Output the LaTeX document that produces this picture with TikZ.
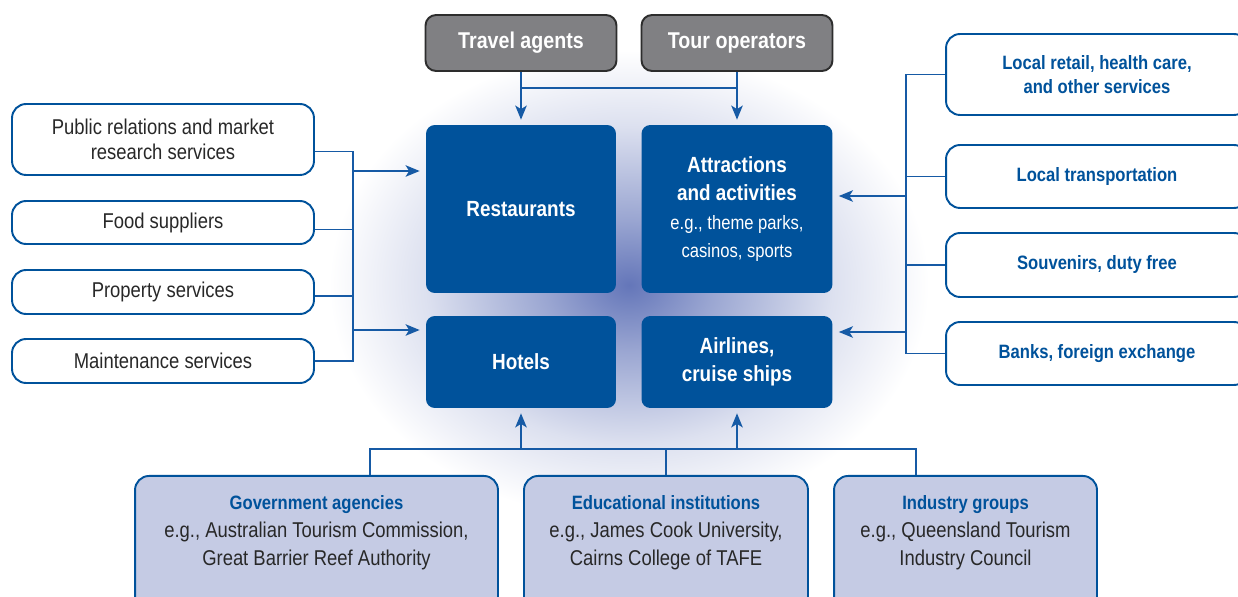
\documentclass[tikz,border=0pt]{standalone}
\usepackage{fontspec}
\setmainfont{Liberation Sans}[FakeStretch=0.86]
\usetikzlibrary{arrows.meta, positioning}
\definecolor{sectorblue}{RGB}{0,82,155}
\definecolor{linkblue}{RGB}{22,90,165}
\definecolor{agentgray}{RGB}{128,128,131}
\definecolor{edgegray}{RGB}{45,45,45}
\definecolor{supportfill}{RGB}{197,203,228}
\definecolor{textgray}{RGB}{40,40,40}
\definecolor{glowblue}{RGB}{100,118,185}
\colorlet{glowmid}{glowblue!65!white}
\colorlet{glowlow}{glowblue!22!white}
\pgfdeclareradialshading{glow}{\pgfpoint{0bp}{0bp}}{color(0bp)=(glowblue); color(7bp)=(glowmid); color(17bp)=(glowlow); color(25bp)=(white); color(50bp)=(white)}
\newcommand{\egline}[1]{{\mdseries\fontsize{11}{12.5}\selectfont #1}}

\begin{document}
\begin{tikzpicture}[x=0.02cm, y=-0.02cm, >={Stealth[length=8pt, width=6.5pt, inset=2pt]},
    sector/.style={fill=sectorblue, rounded corners=5pt, text=white, align=center, inner sep=0pt, font=\bfseries\fontsize{12.5}{16}\selectfont},
    agent/.style={draw=edgegray, line width=1.1pt, fill=agentgray, rounded corners=6pt, text=white, minimum width=3.82cm, minimum height=1.12cm, font=\bfseries\fontsize{13}{16}\selectfont},
    supplier/.style={draw=sectorblue, line width=1.1pt, fill=white, rounded corners=8pt, text=textgray, align=center, minimum width=6.04cm, font=\fontsize{12.2}{14}\selectfont},
    localbox/.style={supplier, text=sectorblue, font=\bfseries\fontsize{11}{13.5}\selectfont},
    support/.style={draw=sectorblue, line width=1.1pt, fill=supportfill, rounded corners=8pt, minimum height=2.9cm, anchor=north},
    supporttext/.style={anchor=north, align=center, text=textgray, yshift=-0.28cm, font=\fontsize{12.2}{16}\selectfont},
    link/.style={draw=linkblue, line width=1.1pt},
    flow/.style={link, ->}]
    \useasboundingbox (0,0) rectangle (1238,597);

    % Glow behind the core sectors
    \shade[shading=glow] (629,285) ellipse (6cm and 4.7cm);

    % Intermediaries
    \node[agent] (travel) at (521,43) {Travel agents};
    \node[agent] (tour) at (737,43) {Tour operators};

    % Core sectors
    \node[sector, minimum width=3.8cm, minimum height=3.36cm] (rest) at (521,209) {Restaurants};
    \node[sector, minimum width=3.82cm, minimum height=3.36cm] (attr) at (737,209)
        {Attractions\\and activities\\\egline{e.g., theme parks,}\\\egline{casinos, sports}};
    \node[sector, minimum width=3.8cm, minimum height=1.84cm] (hotel) at (521,362) {Hotels};
    \node[sector, minimum width=3.82cm, minimum height=1.84cm] (air) at (737,362) {Airlines,\\cruise ships};

    % Suppliers
    \node[supplier, minimum height=1.42cm] (pr) at (163,139.5) {Public relations and market\\research services};
    \node[supplier, minimum height=0.86cm] (food) at (163,222.5) {Food suppliers};
    \node[supplier, minimum height=0.88cm] (prop) at (163,292) {Property services};
    \node[supplier, minimum height=0.88cm] (maint) at (163,361) {Maintenance services};

    % Local services
    \node[localbox, minimum height=1.62cm] (retail) at (1097,74.5) {Local retail, health care,\\and other services};
    \node[localbox, minimum height=1.26cm] (transport) at (1097,176.5) {Local transportation};
    \node[localbox, minimum height=1.28cm] (souv) at (1097,265) {Souvenirs, duty free};
    \node[localbox, minimum height=1.26cm] (banks) at (1097,353.5) {Banks, foreign exchange};

    % Support organisations
    \node[support, minimum width=7.26cm] (gov) at (316.5,475) {};
    \node[supporttext] (govtext) at (gov.north) {\textcolor{sectorblue}{\bfseries\fontsize{11}{16}\selectfont Government agencies}\\e.g., Australian Tourism Commission,\\Great Barrier Reef Authority};
    \node[support, minimum width=5.68cm] (edu) at (666,475) {};
    \node[supporttext] (edutext) at (edu.north) {\textcolor{sectorblue}{\bfseries\fontsize{11}{16}\selectfont Educational institutions}\\e.g., James Cook University,\\Cairns College of TAFE};
    \node[support, minimum width=5.26cm] (ind) at (965.5,475) {};
    \node[supporttext] (indtext) at (ind.north) {\textcolor{sectorblue}{\bfseries\fontsize{11}{16}\selectfont Industry groups}\\e.g., Queensland Tourism\\Industry Council};

    % Top connectors
    \coordinate (tj) at ([yshift=-0.32cm]travel.south);
    \draw[link] (travel.south) -- (tj) -- (tj -| tour.south) -- (tour.south);
    \draw[flow] (tj) -- ([yshift=0.1cm]rest.north);
    \draw[flow] (tj -| tour.south) -- ([yshift=0.1cm]attr.north);

    % Left connectors
    \coordinate (lt) at ([xshift=0.76cm, yshift=-0.24cm]pr.east);
    \coordinate (lb) at ([xshift=0.76cm]maint.east);
    \draw[link] (pr.east |- lt) -- (lt) -- (lb) -- (maint.east);
    \draw[link] ([yshift=-0.14cm]food.east) -- ([yshift=-0.14cm]food.east -| lt);
    \draw[link] ([yshift=-0.08cm]prop.east) -- ([yshift=-0.08cm]prop.east -| lt);
    \coordinate (rarr) at ([xshift=-0.12cm, yshift=0.76cm]rest.west);
    \coordinate (harr) at ([xshift=-0.12cm, yshift=0.64cm]hotel.west);
    \draw[flow] (lt |- rarr) -- (rarr);
    \draw[flow] (lt |- harr) -- (harr);

    % Right connectors
    \coordinate (rb) at ([xshift=-0.78cm]banks.west);
    \draw[link] (retail.west) -| (rb) -- (banks.west);
    \draw[link] (transport.west) -- (transport.west -| rb);
    \draw[link] (souv.west) -- (souv.west -| rb);
    \coordinate (aarr) at ([xshift=0.12cm, yshift=0.26cm]attr.east);
    \coordinate (larr) at ([xshift=0.12cm, yshift=0.6cm]air.east);
    \draw[flow] (rb |- aarr) -- (aarr);
    \draw[flow] (rb |- larr) -- (larr);

    % Bottom connectors
    \coordinate (bl) at (370,449);
    \coordinate (br) at (916,449);
    \draw[link] (gov.north -| bl) -- (bl) -- (br) -- (ind.north -| br);
    \draw[link] (edu.north) -- (edu.north |- bl);
    \draw[flow] (hotel.south |- bl) -- ([yshift=-0.1cm]hotel.south);
    \draw[flow] (air.south |- bl) -- ([yshift=-0.1cm]air.south);
\end{tikzpicture}
\end{document}
